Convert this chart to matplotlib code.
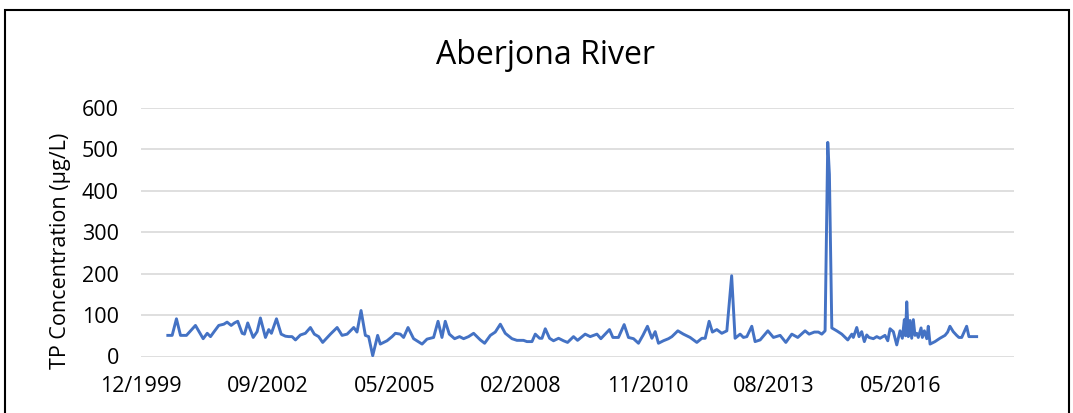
import numpy as np
import pandas as pd
import matplotlib
matplotlib.use("Agg")
import matplotlib.pyplot as plt
import matplotlib.dates as mdates
from matplotlib.patches import Rectangle

plt.rcParams['font.family'] = ['Open Sans', 'DejaVu Sans']

# sample dates as Excel serial days, TP concentration in ug/L
serial_days = [
    36712, 36746, 36780, 36812, 36859, 36930, 36991, 37023, 37049, 37075,
    37114, 37154, 37180, 37212, 37238, 37264, 37299, 37317, 37343, 37386,
    37417, 37443, 37483, 37509, 37530, 37570, 37607, 37641, 37667, 37693,
    37720, 37759, 37798, 37838, 37869, 37903, 37935, 37996, 38049, 38088,
    38128, 38180, 38206, 38238, 38272, 38298, 38330, 38369, 38390, 38443,
    38483, 38509, 38548, 38574, 38609, 38653, 38720, 38759, 38811, 38846,
    38877, 38903, 38935, 38977, 39016, 39048, 39087, 39127, 39180, 39214,
    39259, 39298, 39338, 39377, 39430, 39469, 39521, 39548, 39588, 39614,
    39648, 39667, 39693, 39727, 39758, 39798, 39837, 39869, 39916, 39948,
    40008, 40048, 40101, 40132, 40200, 40227, 40271, 40316, 40350, 40390,
    40429, 40464, 40500, 40535, 40561, 40587, 40626, 40666, 40693, 40740,
    40784, 40837, 40890, 40930, 40956, 40987, 41013, 41048, 41087, 41127,
    41165, 41192, 41232, 41258, 41285, 41324, 41350, 41390, 41451, 41495,
    41548, 41593, 41640, 41687, 41745, 41777, 41818, 41850, 41877, 41903,
    41924, 41937, 41956, 41995, 42035, 42082, 42114, 42126, 42153, 42171,
    42192, 42213, 42232, 42250, 42284, 42311, 42337, 42376, 42398, 42416,
    42442, 42469, 42495, 42513, 42529, 42538, 42548, 42560, 42574, 42587,
    42600, 42613, 42627, 42639, 42661, 42671, 42687, 42706, 42718, 42732,
    42771, 42810, 42850, 42871, 42889, 42915, 42942, 42960, 42982, 43021,
    43039, 43100,
]
tp_conc = [
    51, 51, 91, 51, 51, 75, 43, 56, 48, 59,
    75, 78, 83, 75, 81, 85, 56, 54, 81, 46,
    60, 93, 46, 65, 56, 91, 54, 49, 48, 48,
    40, 52, 56, 70, 54, 48, 34, 54, 70, 51,
    54, 70, 59, 111, 51, 48, 2, 51, 30, 38,
    48, 56, 54, 46, 70, 43, 30, 42, 46, 85,
    46, 85, 54, 43, 48, 43, 48, 56, 40, 32,
    51, 59, 78, 56, 43, 39, 39, 36, 36, 54,
    44, 44, 67, 44, 38, 44, 38, 34, 48, 39,
    54, 48, 54, 43, 65, 46, 46, 77, 46, 43,
    32, 51, 73, 44, 60, 32, 38, 43, 48, 62,
    54, 46, 34, 44, 44, 85, 59, 65, 56, 62,
    195, 44, 54, 46, 48, 73, 36, 40, 62, 46,
    51, 34, 54, 46, 62, 54, 59, 59, 54, 62,
    517, 440, 69, 62, 54, 40, 54, 46, 70, 48,
    60, 36, 52, 46, 43, 48, 44, 51, 38, 67,
    60, 28, 62, 44, 89, 50, 132, 48, 87, 44,
    89, 51, 56, 46, 69, 46, 62, 43, 73, 30,
    36, 44, 51, 59, 73, 60, 51, 46, 46, 73,
    48, 48,
]
x_start, x_end, x_step = 36500, 43395, 1000
y_ticks = [0, 100, 200, 300, 400, 500, 600]

dates = pd.to_datetime(serial_days, unit='D', origin='1899-12-30')
tick_dates = pd.to_datetime(np.arange(x_start, x_end, x_step), unit='D', origin='1899-12-30')
lims = pd.to_datetime([x_start, x_end], unit='D', origin='1899-12-30')

fig = plt.figure(figsize=(10.73, 4.13), dpi=100)
ax = fig.add_axes([141 / 1073, 1 - 356.5 / 413, 873 / 1073, 248.5 / 413])

ax.plot(dates, tp_conc, color='#4472C4', lw=2.1, zorder=3)

ax.set_xlim(lims[0], lims[1])
ax.set_ylim(0, 600)
ax.set_yticks(y_ticks)
ax.set_xticks(tick_dates)
ax.xaxis.set_major_formatter(mdates.DateFormatter('%m/%Y'))
ax.grid(axis='y', color='#d9d9d9', lw=1.2)
ax.set_axisbelow(True)
for s in ax.spines.values():
    s.set_visible(False)
ax.tick_params(length=0, labelsize=15.5, colors='black')
ax.tick_params(axis='y', pad=16)
ax.tick_params(axis='x', pad=14)
ax.set_ylabel('TP Concentration (µg/L)', fontsize=15.5)
ax.yaxis.set_label_coords(-0.080, 0.425)

fig.text(546 / 1073, 1 - 55 / 413, 'Aberjona River', fontsize=23,
         ha='center', va='center')

# outer chart border
fig.patches.append(Rectangle((5 / 1073, -0.1), 1064 / 1073, 1.1 - 10 / 413,
                             transform=fig.transFigure, fill=False,
                             edgecolor='black', lw=1.5))

fig.savefig('out.png', dpi=100)
